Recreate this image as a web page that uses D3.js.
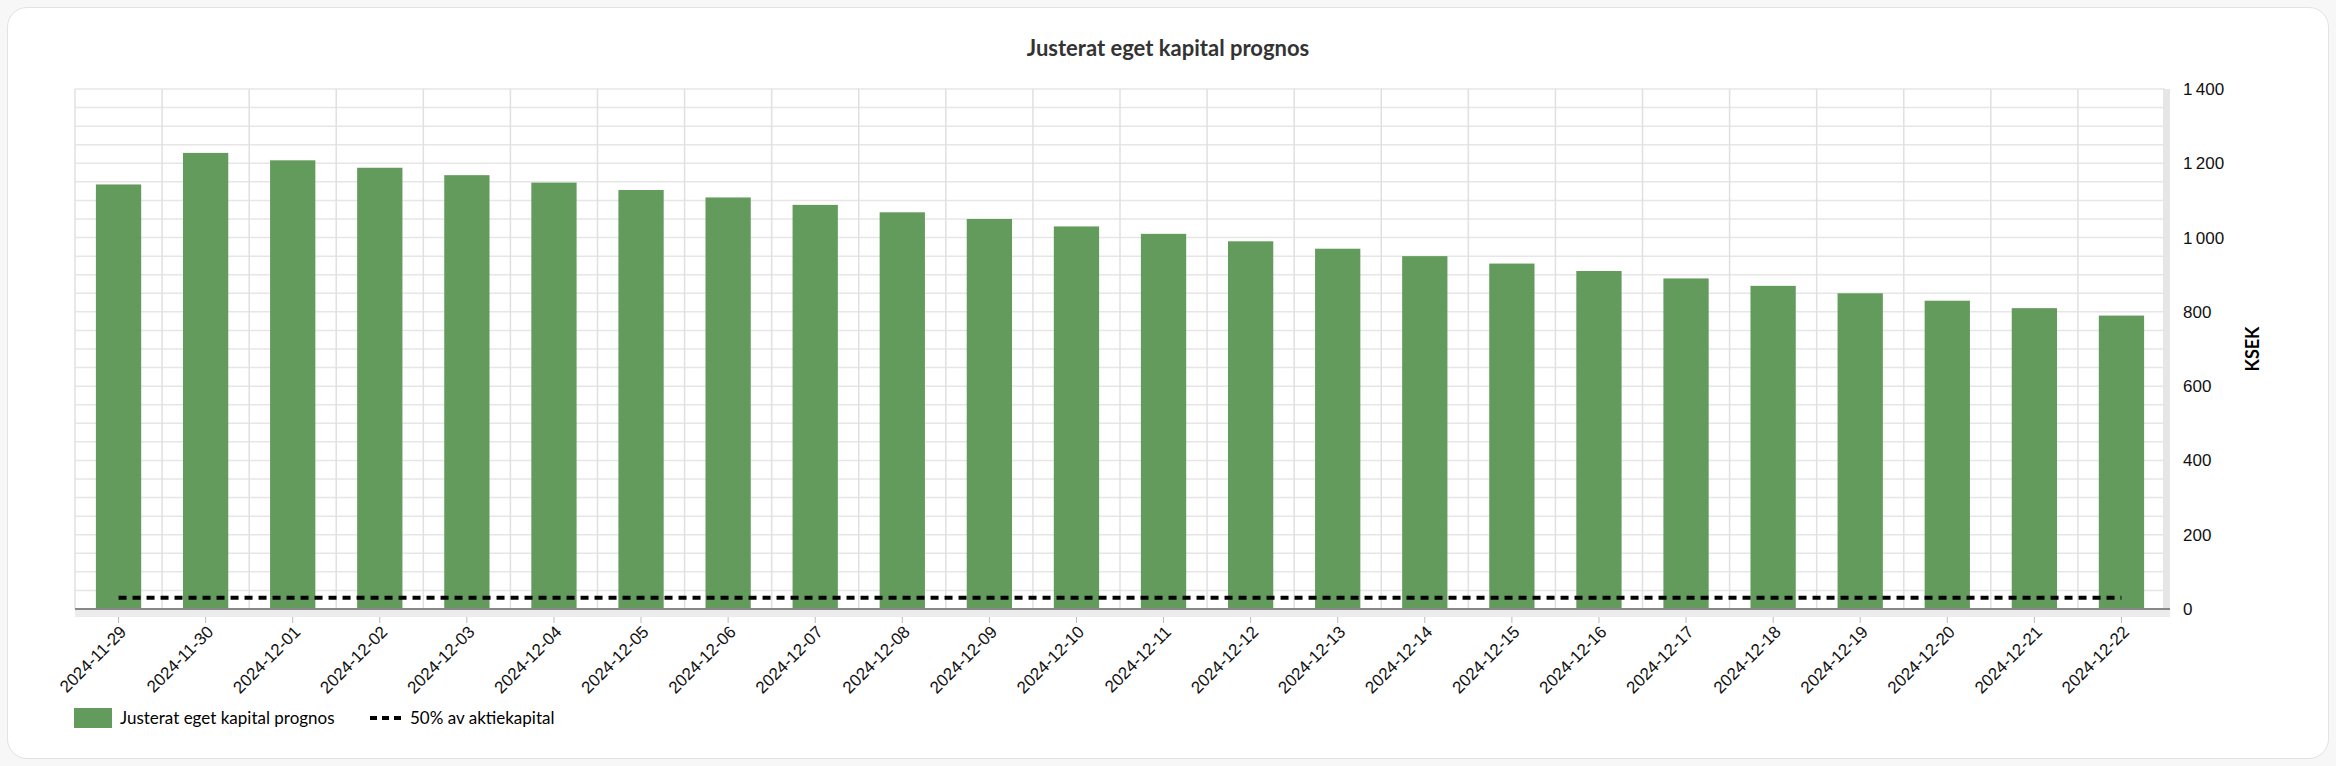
<!DOCTYPE html>
<html>
<head>
<meta charset="utf-8">
<title>Justerat eget kapital prognos</title>
<script src="https://d3js.org/d3.v7.min.js"></script>
<style>
  body { margin: 0; background: #f7f7f7; font-family: Lato, "Noto Sans", sans-serif; }
  .card { position: absolute; left: 7px; top: 7px; width: 2320px; height: 750px;
          background: #fff; border: 1px solid #e2e2e2; border-radius: 20px; }
  svg { position: absolute; left: 0; top: 0; }
</style>
</head>
<body>
<div class="card"></div>
<script>
// data
var dates = ["2024-11-29","2024-11-30","2024-12-01","2024-12-02","2024-12-03","2024-12-04",
  "2024-12-05","2024-12-06","2024-12-07","2024-12-08","2024-12-09","2024-12-10","2024-12-11",
  "2024-12-12","2024-12-13","2024-12-14","2024-12-15","2024-12-16","2024-12-17","2024-12-18",
  "2024-12-19","2024-12-20","2024-12-21","2024-12-22"];
var equity = [1143,1228,1208,1188,1168,1148,1128,1108,1088,1068,1050,1030,1010,990,970,950,
  930,910,890,870,850,830,810,790];
var halfShareCapital = [30,30,30,30,30,30,30,30,30,30,30,30,30,30,30,30,30,30,30,30,30,30,30,30];
var yTicks = [0,200,400,600,800,1000,1200,1400];

var W = 2336, H = 766;
var m = {left: 75, right: 2165, top: 89, bottom: 609};

var svg = d3.select("body").append("svg").attr("width", W).attr("height", H);

var x = d3.scaleBand().domain(dates).range([m.left, m.right]).paddingInner(0.48).paddingOuter(0.24);
var y = d3.scaleLinear().domain([0, 1400]).range([m.bottom, m.top]);
var step = (m.right - m.left) / dates.length;

svg.append("text").attr("x", W / 2).attr("y", 56).attr("text-anchor", "middle")
  .style("font-size", "22px").style("font-weight", "bold").style("fill", "#333")
  .text("Justerat eget kapital prognos");

// grid
var minor = d3.range(0, 1401, 50);
svg.append("g").selectAll("line").data(minor).enter().append("line")
  .attr("x1", m.left).attr("x2", m.right)
  .attr("y1", function(d){ return y(d); }).attr("y2", function(d){ return y(d); })
  .attr("stroke", "#e6e6e6").attr("stroke-width", 1.5);
svg.append("g").selectAll("line").data(d3.range(dates.length + 1)).enter().append("line")
  .attr("x1", function(i){ return m.left + i * step; }).attr("x2", function(i){ return m.left + i * step; })
  .attr("y1", m.top).attr("y2", m.bottom)
  .attr("stroke", "#e0e0e0").attr("stroke-width", 1.5);

// gray strips
svg.append("rect").attr("x", m.right - 2).attr("y", m.top).attr("width", 7).attr("height", m.bottom - m.top + 8).attr("fill", "#e6e6e6");
svg.append("rect").attr("x", m.left).attr("y", m.bottom).attr("width", m.right - m.left + 5).attr("height", 8).attr("fill", "#ececec");

// bars
svg.append("g").selectAll("rect").data(equity).enter().append("rect")
  .attr("x", function(d, i){ return x(dates[i]); })
  .attr("width", x.bandwidth())
  .attr("y", function(d){ return y(d); })
  .attr("height", function(d){ return y(0) - y(d); })
  .attr("fill", "#639b5c");

svg.append("line").attr("x1", m.left).attr("x2", m.right + 5).attr("y1", m.bottom).attr("y2", m.bottom)
  .attr("stroke", "#888").attr("stroke-width", 2);

// dashed line
var line = d3.line().x(function(d, i){ return x(dates[i]) + x.bandwidth() / 2; }).y(function(d){ return y(d); });
svg.append("path").datum(halfShareCapital).attr("d", line)
  .attr("fill", "none").attr("stroke", "#000").attr("stroke-width", 4).attr("stroke-dasharray", "8,6");

// y axis right
var ya = svg.append("g").attr("transform", "translate(" + (m.right + 15) + ",0)")
  .call(d3.axisRight(y).tickValues(yTicks).tickSize(0)
    .tickFormat(function(d){ return d3.format(",")(d).replace(/,/g, "\u2009"); }));
ya.select(".domain").remove();
ya.selectAll("text").style("font-size", "17px").style("fill", "#111").attr("dx", 0);
svg.append("text").attr("transform", "translate(2259," + ((m.top + m.bottom) / 2) + ") rotate(-90)")
  .attr("text-anchor", "middle").style("font-size", "18px").style("font-weight", "bold").text("KSEK");

// x axis
var xa = svg.append("g").attr("transform", "translate(0," + (m.bottom + 8) + ")")
  .call(d3.axisBottom(x).tickSize(6));
xa.select(".domain").remove();
xa.selectAll("line").attr("stroke", "#bbb");
xa.selectAll("text").style("font-size", "17px").style("fill", "#111")
  .attr("text-anchor", "end").attr("dx", "-0.3em").attr("dy", "0.5em")
  .attr("transform", "rotate(-45)");

// legend
var lg = svg.append("g").attr("transform", "translate(74,708)");
lg.append("rect").attr("width", 38).attr("height", 20).attr("fill", "#639b5c");
lg.append("text").attr("x", 46).attr("y", 16).style("font-size", "17px").text("Justerat eget kapital prognos");
lg.append("line").attr("x1", 296).attr("x2", 328).attr("y1", 10).attr("y2", 10)
  .attr("stroke", "#000").attr("stroke-width", 4).attr("stroke-dasharray", "7,5");
lg.append("text").attr("x", 336).attr("y", 16).style("font-size", "17px").text("50% av aktiekapital");
</script>
</body>
</html>
